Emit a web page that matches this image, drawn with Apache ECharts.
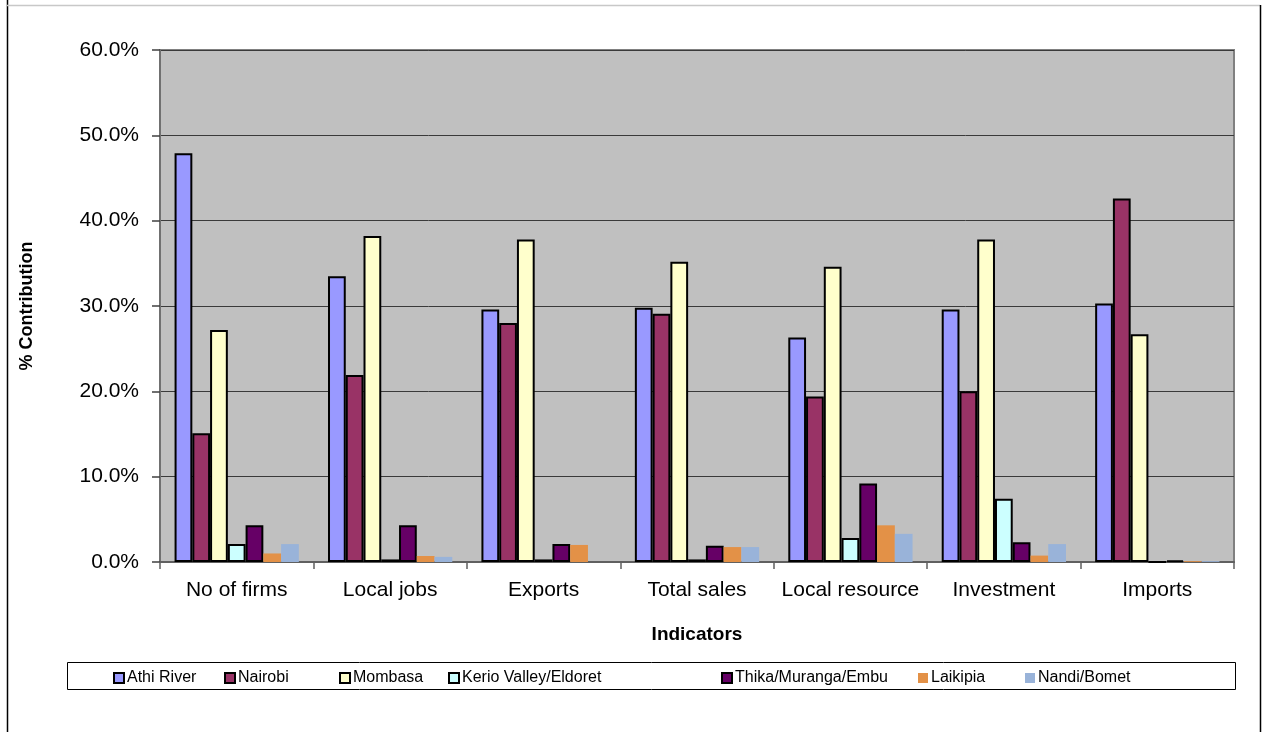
<!DOCTYPE html>
<html>
<head>
<meta charset="utf-8">
<script src="https://cdn.jsdelivr.net/npm/echarts@6/dist/echarts.min.js"></script>
<style>html,body{margin:0;padding:0;background:#fff;}#c{width:1263px;height:732px;}</style>
</head>
<body>
<div id="c"></div>
<script>
const categories = ['No of firms', 'Local jobs', 'Exports', 'Total sales', 'Local resource', 'Investment', 'Imports'];
const seriesNames = ['Athi River', 'Nairobi', 'Mombasa', 'Kerio Valley/Eldoret', 'Thika/Muranga/Embu', 'Laikipia', 'Nandi/Bomet'];
const athiRiver = [47.9, 33.5, 29.6, 29.8, 26.3, 29.6, 30.3];
const nairobi   = [15.1, 21.9, 28.0, 29.1, 19.4, 20.0, 42.6];
const mombasa   = [27.2, 38.2, 37.8, 35.2, 34.6, 37.8, 26.7];
const kerio     = [2.1, 0.3, 0.3, 0.3, 2.8, 7.4, 0.0];
const thika     = [4.3, 4.3, 2.1, 1.9, 9.2, 2.3, 0.2];
const laikipia  = [1.0, 0.7, 2.0, 1.75, 4.3, 0.75, 0.1];
const nandi     = [2.1, 0.6, 0.0, 1.75, 3.3, 2.1, 0.1];
const yTicks = [0, 10, 20, 30, 40, 50, 60];

const values = [athiRiver, nairobi, mombasa, kerio, thika, laikipia, nandi];
const colors = ['#9999FF', '#993366', '#FFFFCC', '#CCFFFF', '#660066', '#E39147', '#99B3D9'];
const bordered = [true, true, true, true, true, false, false];
const legendX = [113, 224, 339, 448, 721, 918, 1025];

const FONT = '"Liberation Sans", Arial, sans-serif';

const chart = echarts.init(document.getElementById('c'), null, {renderer: 'canvas'});

const series = seriesNames.map((n, i) => ({
  name: n,
  type: 'bar',
  data: values[i],
  barGap: 0,
  barCategoryGap: '19%',
  itemStyle: {
    color: colors[i],
    borderColor: bordered[i] ? '#000' : colors[i],
    borderWidth: bordered[i] ? 2 : 0
  },
  emphasis: {disabled: true}
}));

const legends = seriesNames.map((n, i) => ({
  data: [n],
  left: legendX[i],
  top: 670,
  padding: 0,
  itemWidth: 10,
  itemHeight: 10,
  itemGap: 5,
  icon: 'rect',
  selectedMode: false,
  textStyle: {fontFamily: FONT, fontSize: 16, color: '#000', padding: [0, 0, 0, -2]}
}));

chart.setOption({
  animation: false,
  backgroundColor: '#fff',
  grid: {
    left: 160, right: 29, top: 50, bottom: 170,
    show: true, backgroundColor: '#C0C0C0', borderColor: '#808080', borderWidth: 2
  },
  legend: legends,
  xAxis: {
    type: 'category',
    data: categories,
    name: 'Indicators',
    nameLocation: 'middle',
    nameGap: 63,
    nameTextStyle: {fontFamily: FONT, fontSize: 19, fontWeight: 'bold', color: '#000'},
    axisLine: {lineStyle: {color: '#606060', width: 2}},
    axisTick: {show: true, length: 7, lineStyle: {color: '#606060', width: 1.5}, alignWithLabel: false},
    axisLabel: {fontFamily: FONT, fontSize: 21, color: '#000', margin: 18, interval: 0}
  },
  yAxis: {
    type: 'value',
    min: 0, max: 60, interval: 10,
    name: '% Contribution',
    nameLocation: 'middle',
    nameGap: 124,
    nameRotate: 90,
    nameTextStyle: {fontFamily: FONT, fontSize: 18, fontWeight: 'bold', color: '#000'},
    axisLine: {show: true, lineStyle: {color: '#707070', width: 2}},
    axisTick: {show: true, length: 8, lineStyle: {color: '#404040', width: 1.5}},
    splitLine: {show: true, lineStyle: {color: '#3a3a3a', width: 1}},
    axisLabel: {
      fontFamily: FONT, fontSize: 21, color: '#000', margin: 21,
      formatter: v => yTicks.includes(v) ? v.toFixed(1) + '%' : ''
    }
  },
  series: series,
  graphic: [
    {type: 'line', shape: {x1: 7.5, y1: 0, x2: 7.5, y2: 732}, style: {stroke: '#000', lineWidth: 1.5}, silent: true},
    {type: 'line', shape: {x1: 7, y1: 5.5, x2: 1260, y2: 5.5}, style: {stroke: '#c8c8c8', lineWidth: 1.5}, silent: true},
    {type: 'line', shape: {x1: 1260.5, y1: 5, x2: 1260.5, y2: 732}, style: {stroke: '#000', lineWidth: 1.5}, silent: true},
    {type: 'rect', shape: {x: 67.5, y: 662.5, width: 1168, height: 27}, style: {fill: 'none', stroke: '#000', lineWidth: 1}, silent: true, z: -1}
  ]
});
</script>
</body>
</html>
